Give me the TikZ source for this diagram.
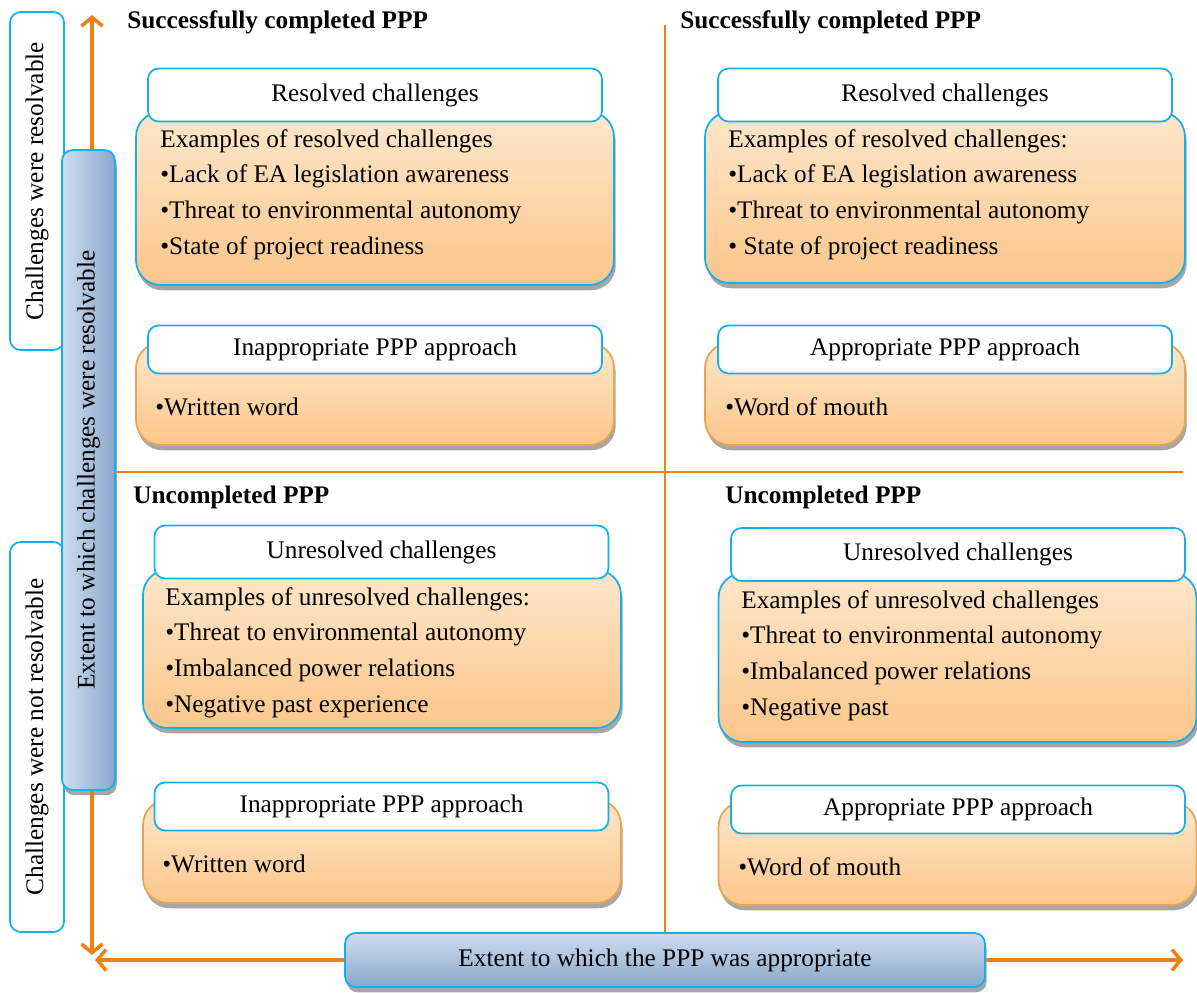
\documentclass[tikz,border=0pt]{standalone}
\usepackage{fontspec}
\setmainfont{Liberation Serif}
\usetikzlibrary{arrows.meta,shadows}

\definecolor{axisorange}{RGB}{240,128,20}
\definecolor{boxcyan}{RGB}{20,176,236}
\definecolor{orangetop}{RGB}{253,231,203}
\definecolor{orangebot}{RGB}{252,198,138}
\definecolor{orangeedge}{RGB}{232,164,82}
\definecolor{bluelight}{RGB}{207,221,239}
\definecolor{bluedark}{RGB}{138,167,203}

\newcommand{\boxfont}{\fontsize{14.4}{20.3}\selectfont}

\tikzset{
  axisline/.style={line width=2pt, draw=axisorange},
  axistip/.style={-{Straight Barb[length=5pt,width=12pt]}},
  quadline/.style={line width=1.6pt, draw=axisorange},
  header/.style={draw=boxcyan, line width=1pt, fill=white, rounded corners=6pt,
    minimum width=9.08cm, minimum height=1.06cm, inner sep=0pt, font=\boxfont},
  listbox/.style={draw=boxcyan, line width=1pt, rounded corners=14pt,
    top color=orangetop, bottom color=orangebot, minimum width=9.56cm,
    drop shadow={shadow xshift=1pt, shadow yshift=-3pt, fill=gray!70, opacity=1}},
  waybox/.style={listbox, draw=orangeedge},
  bodytext/.style={anchor=north west, align=left, inner sep=0pt, font=\boxfont},
  heading/.style={anchor=west, inner sep=0pt, font=\fontsize{14.4}{16}\selectfont\bfseries},
  sidebox/.style={draw=boxcyan, line width=1pt, fill=white, rounded corners=6pt,
    minimum width=1.08cm, inner sep=0pt, font=\boxfont},
  axisbox/.style={draw=boxcyan, line width=1pt, rounded corners=6pt, inner sep=0pt,
    font=\boxfont, drop shadow={shadow xshift=1pt, shadow yshift=-3pt, fill=gray!70, opacity=1}}
}

\begin{document}
\begin{tikzpicture}[x=0.02cm, y=-0.02cm]
\useasboundingbox (0,0) rectangle (1197,992);

% side labels
\node[sidebox, minimum height=6.76cm] (resolvable) at (37,181)
  {\rotatebox{90}{Challenges were resolvable}};
\node[sidebox, minimum height=7.8cm] (notresolvable) at (37,737)
  {\rotatebox{90}{Challenges were not resolvable}};

% axis boxes
\node[axisbox, left color=bluelight, right color=bluedark,
  minimum width=1.06cm, minimum height=12.8cm] (yaxis) at (88.5,470)
  {\rotatebox{90}{Extent to which challenges were resolvable}};
\node[axisbox, top color=bluelight, bottom color=bluedark,
  minimum width=12.8cm, minimum height=1.08cm] (xaxis) at (665,960)
  {Extent to which the PPP was appropriate};

\coordinate (ytop) at (92,15);
\coordinate (ybot) at (92,955);
\coordinate (xleft) at (95,960);
\coordinate (xright) at (1183,960);
\coordinate (qtop) at (665,25);
\coordinate (hright) at (1183,472);

% axes and quadrant lines
\draw[axisline, axistip] (yaxis.north -| ytop) -- (ytop);
\draw[axisline, axistip] (yaxis.south -| ybot) -- (ybot);
\draw[axisline, axistip] (xaxis.west) -- (xleft);
\draw[axisline, axistip] (xaxis.east) -- (xright);
\draw[quadline] (qtop) -- (xaxis.north -| qtop);
\draw[quadline] (yaxis.east |- hright) -- (hright);

% headings
\node[heading] (tlhead) at (127,22) {Successfully completed PPP};
\node[heading] (trhead) at (680,22) {Successfully completed PPP};
\node[heading] (blhead) at (133,497) {Uncompleted PPP};
\node[heading] (brhead) at (725,497) {Uncompleted PPP};

% top left quadrant
\node[listbox, minimum height=3.46cm] (tlbox) at (375,198.5) {};
\node[header] (tltitle) at (375,95) {Resolved challenges};
\node[bodytext] (tllist) at (160,129) {Examples of resolved challenges\\
  \textbullet Lack of EA legislation awareness\\
  \textbullet Threat to environmental autonomy\\
  \textbullet State of project readiness};
\node[waybox, minimum height=2.04cm] (tlway) at (375,394) {};
\node[header, minimum height=0.96cm] (tlwaytitle) at (375,349.5) {Inappropriate PPP approach};
\node[bodytext] (tlwaylist) at (155,398) {\textbullet Written word};

% top right quadrant
\node[listbox, minimum width=9.6cm, minimum height=3.42cm] (trbox) at (945,197.5) {};
\node[header] (trtitle) at (945,95) {Resolved challenges};
\node[bodytext] (trlist) at (728,129) {Examples of resolved challenges:\\
  \textbullet Lack of EA legislation awareness\\
  \textbullet Threat to environmental autonomy\\
  \textbullet\ State of project readiness};
\node[waybox, minimum width=9.6cm, minimum height=2.04cm] (trway) at (945,394) {};
\node[header, minimum height=0.96cm] (trwaytitle) at (945,349.5) {Appropriate PPP approach};
\node[bodytext] (trwaylist) at (725,397) {\textbullet Word of mouth};

% bottom left quadrant
\node[listbox, minimum height=3.16cm] (blbox) at (382,649) {};
\node[header] (bltitle) at (381.5,552) {Unresolved challenges};
\node[bodytext] (bllist) at (165,587) {Examples of unresolved challenges:\\
  \textbullet Threat to environmental autonomy\\
  \textbullet Imbalanced power relations\\
  \textbullet Negative past experience};
\node[waybox, minimum height=2.06cm] (blway) at (382,851.5) {};
\node[header, minimum height=0.96cm] (blwaytitle) at (381.5,806.5) {Inappropriate PPP approach};
\node[bodytext] (blwaylist) at (162,855) {\textbullet Written word};

% bottom right quadrant
\node[listbox, minimum height=3.38cm] (brbox) at (957.5,657.5) {};
\node[header] (brtitle) at (958,554.5) {Unresolved challenges};
\node[bodytext] (brlist) at (741,590) {Examples of unresolved challenges\\
  \textbullet Threat to environmental autonomy\\
  \textbullet Imbalanced power relations\\
  \textbullet Negative past};
\node[waybox, minimum height=2.06cm] (brway) at (957.5,853.5) {};
\node[header, minimum height=0.96cm] (brwaytitle) at (958,809.5) {Appropriate PPP approach};
\node[bodytext] (brwaylist) at (738,857) {\textbullet Word of mouth};
\end{tikzpicture}
\end{document}
